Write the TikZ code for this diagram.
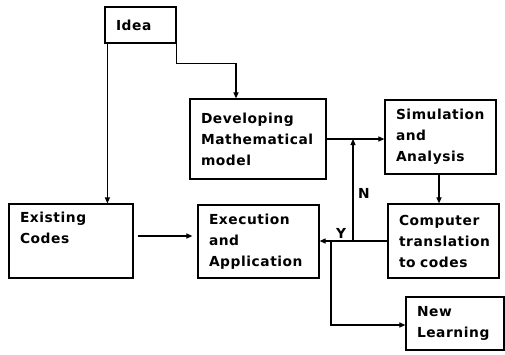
\documentclass[tikz,border=0pt]{standalone}
\usepackage{fontspec}
\setmainfont{DejaVu Sans}[LetterSpace=4]
\usetikzlibrary{arrows.meta}
\begin{document}
\begin{tikzpicture}[x=1pt,y=-1pt,
  box/.style={draw=black,line width=1.2pt,inner xsep=11pt,inner ysep=0pt,align=left,
    font=\fontsize{13.8}{21}\selectfont\bfseries},
  lbl/.style={font=\fontsize{13.8}{21}\selectfont\bfseries,inner sep=0pt},
  arr/.style={line width=1.1pt,-{Triangle[length=6pt,width=5pt]}}]
\useasboundingbox[fill=white] (0,0) rectangle (505,354);
\node[box,minimum width=71pt,minimum height=36pt,text width=49pt] (idea) at (140.5,25) {Idea};
\node[box,minimum width=136pt,minimum height=80pt,text width=114pt] (dev) at (258,139) {Developing\\Mathematical\\model};
\node[box,minimum width=111pt,minimum height=74pt,text width=89pt] (sim) at (440.5,137) {Simulation\\and\\Analysis};
\node[box,minimum width=111pt,minimum height=74pt,text width=89pt] (comp) at (443.5,241) {Computer\\translation\\to codes};
\node[box,minimum width=121pt,minimum height=73pt,text width=99pt] (exec) at (258.5,241.5) {Execution\\and\\Application};
\node[box,minimum width=124pt,minimum height=74pt,text width=102pt] (exist) at (71,241) {Existing\\Codes\\\strut};
\node[box,minimum width=98pt,minimum height=53pt,text width=76pt] (newl) at (455,323.5) {New\\Learning};
\node[lbl] (N) at (364,193) {N};
\node[lbl] (Y) at (341,233) {Y};
% connectors
\coordinate (ia) at ([xshift=3pt]idea.south west);
\draw[arr] (ia) -- (ia |- exist.north);
\coordinate (dt) at ([xshift=-22pt]dev.north);
\draw[arr] (idea.south east) -- ++(0,20) -| (dt);
\draw[arr] (dev.east) -- (dev.east -| sim.west);
\coordinate (st) at ([xshift=-1.5pt]sim.south);
\draw[arr] (st) -- (st |- comp.north);
\draw[arr] (comp.west) -- (comp.west -| exec.east);
\coordinate (j1) at (353,241);
\draw[arr] (j1) -- (j1 |- dev.east);
\coordinate (j2) at (331,241);
\draw[arr] (j2) -- (331,325) -- (331,325 -| newl.west);
\coordinate (ee) at ([xshift=4pt,yshift=5pt]exist.east);
\coordinate (ew) at ([xshift=-5pt]exec.west);
\draw[arr] (ee) -- (ee -| ew);
\end{tikzpicture}
\end{document}
